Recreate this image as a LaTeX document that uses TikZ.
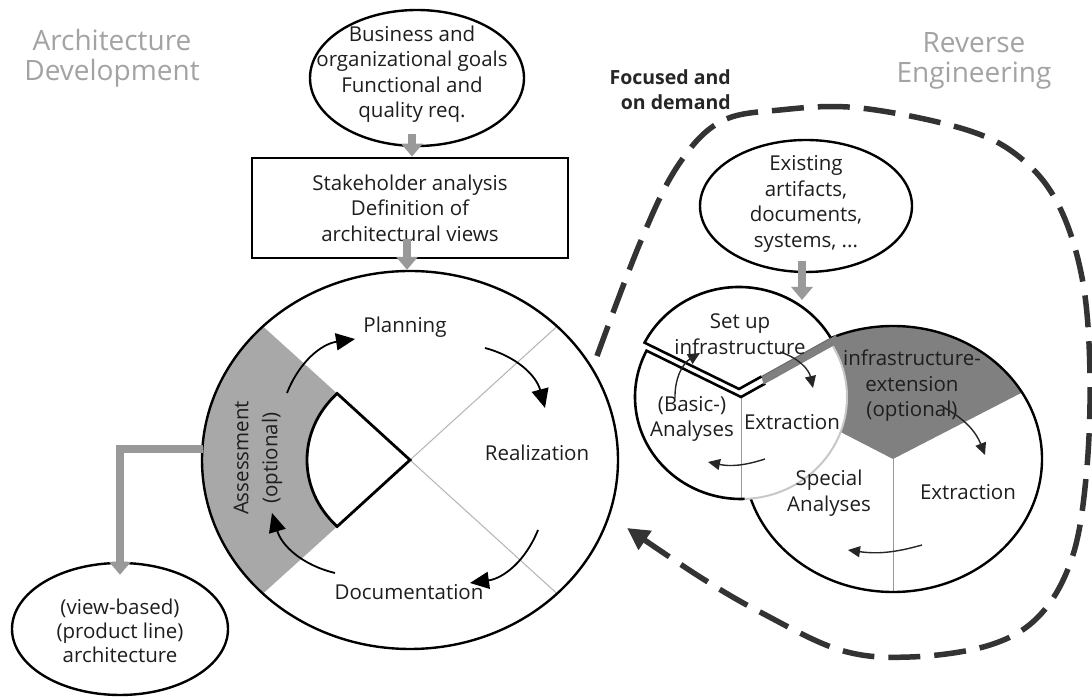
\documentclass[tikz,border=0pt]{standalone}
\usepackage{fontspec}
\setmainfont{Open Sans}
\usetikzlibrary{arrows.meta,calc,shapes.geometric}
\definecolor{ink}{HTML}{1E1E1E}
\definecolor{titlegray}{HTML}{A3A3A3}
\definecolor{assessgray}{HTML}{A8A8A8}
\definecolor{regray}{HTML}{808080}
\definecolor{arrowgray}{HTML}{999999}
\definecolor{thingray}{HTML}{B4B4B4}
\definecolor{lightrim}{HTML}{C8C8C8}
\definecolor{dashgray}{HTML}{333333}
\begin{document}
\begin{tikzpicture}[x=1pt,y=1pt,
  txt/.style={font=\fontsize{20.5}{25.5}\selectfont, text=ink, align=center, inner sep=0pt},
  ttl/.style={font=\fontsize{28}{30}\selectfont, text=titlegray, align=center, inner sep=0pt},
  ellnode/.style={ellipse, draw=black, line width=2.4pt, fill=white, inner sep=0pt},
  garrow/.style={draw=arrowgray, line width=8pt, -{Triangle[length=13pt,width=21pt]}},
  cycarrow/.style={draw=black, line width=1.8pt, -{Triangle[length=19pt,width=17pt]}},
  smallarrow/.style={draw=black!85, line width=1.4pt, -{Triangle[length=12pt,width=11pt]}},
  thinline/.style={draw=thingray, line width=1pt},
  dashline/.style={draw=dashgray, line width=5.5pt, dash pattern=on 32pt off 14pt, -{Triangle[length=22pt,width=22pt]}},
]
\useasboundingbox (0,0) rectangle (1092,698);
\fill[white] (0,0) rectangle (1092,698);

% titles
\node[ttl] (adtitle) at (112,640) {Architecture\\Development};
\node[ttl] (retitle) at (974,637) {Reverse\\Engineering};
\node[font=\fontsize{19.5}{25}\selectfont\bfseries, text=black!85, align=right, anchor=east, inner sep=0pt] (focus) at (731,608) {Focused and\\on demand};

% dashed focus loop
\coordinate (dashend) at (627,170);
\draw[dashline] plot[smooth, tension=0.6] coordinates {(597,342) (640,455) (677,531) (720,576) (780,588) (860,590) (967,568) (1023,538) (1060,490) (1083,415) (1090,320) (1086,220) (1072,140) (1040,83) (990,53) (910,41) (840,48) (760,86) (700,121) (dashend)};

% goals ellipse and stakeholder box
\node[ellnode, minimum width=214pt, minimum height=136pt] (goals) at (417,620) {};
\node[txt] (goalstxt) at (412,624) {Business and\\organizational goals\\Functional and\\quality req.};
\node[txt, draw=black, line width=2.8pt, fill=white, minimum width=316pt, minimum height=100pt] (stake) at (410,490) {Stakeholder analysis\\Definition of\\architectural views};

% main cycle
\coordinate (C) at (410,238);
\fill[white] (C) ellipse [x radius=208, y radius=189];
\fill[assessgray] ($(C)+(135:208 and 189)$) arc[start angle=135, end angle=225, x radius=208, y radius=189] -- ($(C)+(225:103 and 94)$) arc[start angle=225, end angle=135, x radius=103, y radius=94] -- cycle;
\draw[thinline] (C) -- ($(C)+(45:208 and 189)$);
\draw[thinline] (C) -- ($(C)+(-45:208 and 189)$);
\draw[line width=2.8pt, fill=white, line join=miter] (C) -- ($(C)+(135:103 and 94)$) arc[start angle=135, end angle=225, x radius=103, y radius=94] -- cycle;
\node[ellnode, fill=none, minimum width=416pt, minimum height=378pt] (main) at (C) {};

\node[txt] (plan) at (405,371) {Planning};
\node[txt] (real) at (537,245) {Realization};
\node[txt] (doc) at (409,106) {Documentation};
\node[txt, rotate=90, font=\fontsize{20.5}{29}\selectfont] (assess) at (258,240) {Assessment\\(optional)};

\coordinate (m1a) at (287,305); \coordinate (m1b) at (355,359);
\coordinate (m2a) at (485,350); \coordinate (m2b) at (545,290);
\coordinate (m3a) at (538,168); \coordinate (m3b) at (470,115);
\coordinate (m4a) at (335,125); \coordinate (m4b) at (272,185);
\draw[cycarrow] (m1a) to[bend left=30] (m1b);
\draw[cycarrow] (m2a) to[bend left=30] (m2b);
\draw[cycarrow] (m3a) to[bend left=30] (m3b);
\draw[cycarrow] (m4a) to[bend left=30] (m4b);

% view-based architecture
\node[ellnode, minimum width=216pt, minimum height=132pt] (view) at (120,69) {};
\node[txt, font=\fontsize{20.5}{24}\selectfont] (viewtxt) at (120,67) {(view-based)\\(product line)\\architecture};

% gray arrows
\draw[garrow] ($(goals.south -| stake.north)+(2,13)$) -- ($(stake.north)+(2,0)$);
\draw[garrow] ($(stake.south)+(-3,20)$) -- ($(main.north)+(-3,0)$);
\coordinate (assessout) at (203,249);
\draw[garrow, line join=miter, shorten >=-13pt] (assessout) -| (view.north);

% existing artifacts
\node[ellnode, minimum width=212pt, minimum height=132pt] (exist) at (806,492) {};
\node[txt] (existtxt) at (806,494) {Existing\\artifacts,\\documents,\\systems, ...};

% big RE circle
\coordinate (B) at (893,239);
\fill[white] (B) ellipse [x radius=149, y radius=133];
\fill[regray] (B) -- ($(B)+(30:149 and 133)$) arc[start angle=30, end angle=150, x radius=149, y radius=133] -- cycle;
\draw[thinline, draw=black!40] (B) -- ($(B)+(270:149 and 133)$);
\node[ellnode, fill=none, minimum width=298pt, minimum height=266pt] (big) at (B) {};

% small RE circle
\coordinate (S) at (741,301);
\coordinate (St) at (739,309);
\fill[white] (S) -- ($(S)+(153:106 and 102)$) arc[start angle=153, end angle=390, x radius=106, y radius=102] -- cycle;
\draw[thinline, draw=black!40] (S) -- ($(S)+(270:106 and 102)$);
\draw[draw=lightrim, line width=2pt] ($(S)+(272:106 and 102)$) arc[start angle=272, end angle=390, x radius=106, y radius=102];
\draw[line width=2.6pt, line join=miter] ($(S)+(272:106 and 102)$) arc[start angle=272, end angle=153, x radius=106, y radius=102] -- (S) -- ($(S)+(30:28 and 27)$);
\fill[regray] ($(S)+(30:26 and 25)$) -- ($(S)+(30:112 and 108)$) -- ($(St)+(30:112 and 108)$) -- ($(St)+(30:26 and 25)$) -- cycle;
\fill[white] (St) -- ($(St)+(30:106 and 102)$) arc[start angle=30, end angle=153, x radius=106, y radius=102] -- cycle;
\draw[line width=2.6pt, line join=miter] ($(St)+(30:106 and 102)$) arc[start angle=30, end angle=153, x radius=106, y radius=102] -- (St) -- ($(St)+(30:26 and 25)$);
\draw[line width=1pt, draw=black!60] ($(St)+(30:26 and 25)$) -- ($(St)+(30:106 and 102)$);

\coordinate (smalltop) at (802,398);
\draw[garrow] ($(exist.south -| smalltop)+(0,12)$) -- (smalltop);

% RE labels
\node[txt] (setup) at (740,364) {Set up\\infrastructure};
\node[txt] (basic) at (692,279) {(Basic-)\\Analyses};
\node[txt] (extr1) at (792,276) {Extraction};
\node[txt] (infext) at (912,312) {infrastructure-\\extension\\(optional)};
\node[txt] (special) at (829,205) {Special\\Analyses};
\node[txt] (extr2) at (968,206) {Extraction};

\coordinate (r1a) at (675,300); \coordinate (r1b) at (700,345);
\coordinate (r2a) at (780,346); \coordinate (r2b) at (813,310);
\coordinate (r3a) at (765,239); \coordinate (r3b) at (708,236);
\coordinate (r4a) at (943,291); \coordinate (r4b) at (985,243);
\coordinate (r5a) at (922,153); \coordinate (r5b) at (848,148);
\draw[smallarrow] (r1a) to[bend left=30] (r1b);
\draw[smallarrow] (r2a) to[bend left=30] (r2b);
\draw[smallarrow] (r3a) to[bend left=15] (r3b);
\draw[smallarrow] (r4a) to[bend left=20] (r4b);
\draw[smallarrow] (r5a) to[bend left=12] (r5b);
\end{tikzpicture}
\end{document}
